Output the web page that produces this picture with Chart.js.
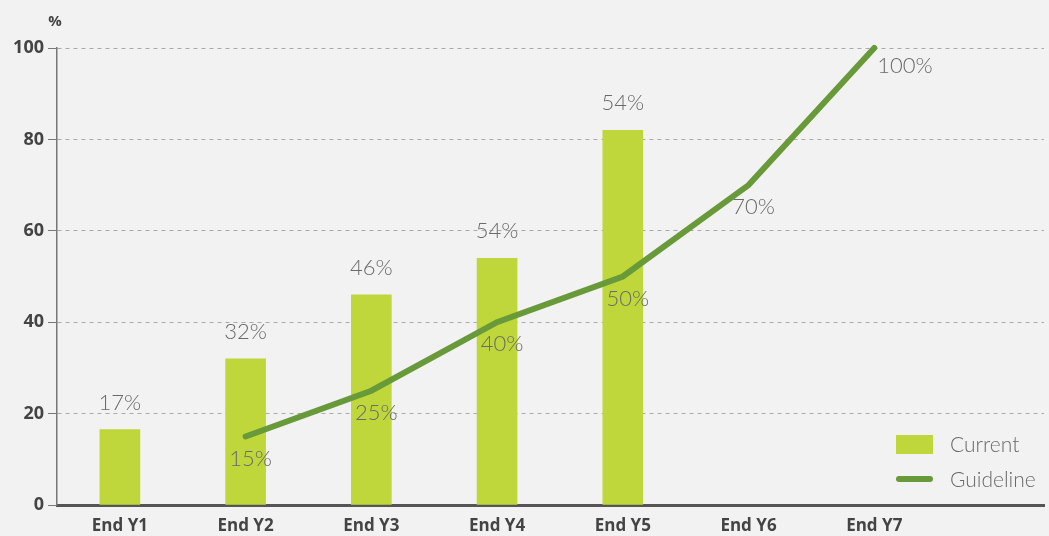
<!DOCTYPE html>
<html>
<head>
<meta charset="utf-8">
<script src="https://cdn.jsdelivr.net/npm/chart.js@4"></script>
<style>
  body { margin: 0; background: #f2f2f2; }
  #wrap { width: 1049px; height: 536px; position: relative; }
</style>
</head>
<body>
<div id="wrap"><canvas id="progressChart"></canvas></div>
<script>
const categories = ['End Y1', 'End Y2', 'End Y3', 'End Y4', 'End Y5', 'End Y6', 'End Y7'];
const currentValues = [16.5, 32, 46, 54, 82];
const currentLabels = ['17%', '32%', '46%', '54%', '54%'];
const guidelineValues = [null, 15, 25, 40, 50, 70, 100];
const guidelineLabels = [null, '15%', '25%', '40%', '50%', '70%', '100%'];
const yTicks = [0, 20, 40, 60, 80, 100];

const barColor = '#bfd73a';
const lineColor = '#699a3a';
const lightFont = '"Lato", "Open Sans", sans-serif';

// value labels, legend and the % unit
const extras = {
  id: 'extras',
  afterDatasetsDraw(chart) {
    const ctx = chart.ctx;
    const area = chart.chartArea;
    ctx.save();
    ctx.fillStyle = '#6a6a6a';
    ctx.font = '300 22px ' + lightFont;
    ctx.textAlign = 'center';
    ctx.textBaseline = 'middle';

    chart.getDatasetMeta(1).data.forEach((bar, i) => {
      ctx.fillText(currentLabels[i], bar.x, bar.y - 27);
    });

    chart.getDatasetMeta(0).data.forEach((pt, i) => {
      if (!guidelineLabels[i]) return;
      if (i === guidelineLabels.length - 1) {
        ctx.textAlign = 'left';
        ctx.fillText(guidelineLabels[i], pt.x + 3, pt.y + 18);
        ctx.textAlign = 'center';
      } else {
        ctx.fillText(guidelineLabels[i], pt.x + 5, pt.y + 22);
      }
    });

    // legend
    const lx = area.right - 148;
    ctx.fillStyle = barColor;
    ctx.fillRect(lx, 435, 37, 19);
    ctx.strokeStyle = lineColor;
    ctx.lineWidth = 6;
    ctx.lineCap = 'round';
    ctx.beginPath();
    ctx.moveTo(lx + 3, 479);
    ctx.lineTo(lx + 34, 479);
    ctx.stroke();
    ctx.fillStyle = '#6a6a6a';
    ctx.font = '300 21px ' + lightFont;
    ctx.textAlign = 'left';
    ctx.fillText(chart.data.datasets[1].label, lx + 54, 445);
    ctx.fillText(chart.data.datasets[0].label, lx + 54, 480);

    // unit
    ctx.fillStyle = '#444';
    ctx.font = '700 15px "Open Sans", sans-serif';
    ctx.textAlign = 'center';
    ctx.fillText('%', 55, 22);
    ctx.restore();
  }
};

const ctx1 = document.getElementById('progressChart');
const progressChart = new Chart(ctx1, {
  type: 'bar',
  data: {
    datasets: [{
      type: 'line',
      label: 'Guideline',
      data: guidelineValues.map((v, i) => ({ x: i, y: v })),
      borderColor: lineColor,
      borderWidth: 6,
      borderCapStyle: 'round',
      borderJoinStyle: 'miter',
      tension: 0,
      pointRadius: 0,
      clip: false,
      order: 0
    },
    {
      label: 'Current',
      data: currentValues.map((v, i) => ({ x: i, y: v })),
      backgroundColor: barColor,
      barThickness: 40,
      order: 1
    }]
  },
  options: {
    responsive: true,
    maintainAspectRatio: false,
    animation: false,
    layout: { padding: { top: 48, right: 5, left: 0, bottom: 0 } },
    plugins: {
      legend: { display: false },
      tooltip: { enabled: false }
    },
    scales: {
      x: {
        type: 'linear',
        offset: false,
        min: -0.5,
        max: 7.35,
        afterBuildTicks: (scale) => {
          scale.ticks = categories.map((c, i) => ({ value: i }));
        },
        afterFit: (scale) => { scale.height = 31; },
        grid: { display: false },
        border: { color: '#555', width: 3 },
        ticks: {
          autoSkip: false,
          maxRotation: 0,
          padding: 3,
          color: '#444',
          font: { family: '"Open Sans", sans-serif', size: 17, weight: 700 },
          callback: (v) => categories[v]
        }
      },
      y: {
        min: 0,
        max: 100,
        afterBuildTicks: (scale) => {
          scale.ticks = yTicks.map(v => ({ value: v }));
        },
        afterFit: (scale) => { scale.width = 57; },
        border: { color: '#777', width: 1.5, dash: [4, 4] },
        grid: {
          color: '#aaa',
          tickBorderDash: [],
          tickColor: '#777',
          tickLength: 9,
          lineWidth: 1
        },
        ticks: {
          padding: 4,
          color: '#444',
          font: { family: '"Open Sans", sans-serif', size: 18, weight: 700 }
        }
      }
    }
  },
  plugins: [extras]
});
</script>
</body>
</html>
